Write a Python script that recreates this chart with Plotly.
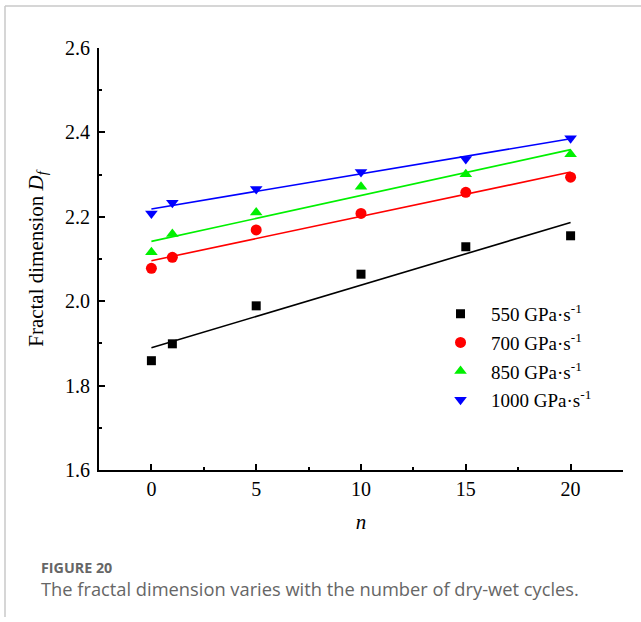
import numpy as np
import plotly.graph_objects as go

n_cycles = [0, 1, 5, 10, 15, 20]
series_names = ["550 GPa·s<sup>-1</sup>", "700 GPa·s<sup>-1</sup>",
                "850 GPa·s<sup>-1</sup>", "1000 GPa·s<sup>-1</sup>"]
df_550 = [1.859, 1.899, 1.989, 2.064, 2.129, 2.155]
df_700 = [2.078, 2.104, 2.169, 2.208, 2.258, 2.294]
df_850 = [2.116, 2.159, 2.210, 2.271, 2.301, 2.348]
df_1000 = [2.208, 2.233, 2.266, 2.306, 2.337, 2.386]

colors = ["#000000", "#ff0000", "#00f000", "#0000ff"]
symbols = ["square", "circle", "triangle-up", "triangle-down"]
sizes = [9, 11, 11, 11]

fig = go.Figure()
all_series = [df_550, df_700, df_850, df_1000]
x = np.array(n_cycles, dtype=float)
for i, ys in enumerate(all_series):
    y = np.array(ys)
    k, b = np.polyfit(x, y, 1)
    xf = np.array([x.min(), x.max()])
    fig.add_trace(go.Scatter(x=xf, y=k * xf + b, mode="lines",
                             line=dict(color=colors[i], width=1.6),
                             showlegend=False, hoverinfo="skip"))
for i, ys in enumerate(all_series):
    fig.add_trace(go.Scatter(x=n_cycles, y=ys, mode="markers", name=series_names[i],
                             legendgroup=f"g{i}",
                             marker=dict(color=colors[i], symbol=symbols[i], size=sizes[i],
                                         line=dict(width=0))))

serif = "Liberation Serif, Times New Roman, serif"
axis_common = dict(showline=True, linecolor="black", linewidth=2, showgrid=False,
                   zeroline=False, ticks="inside", ticklen=6, tickwidth=1.5,
                   tickcolor="black", mirror=False,
                   tickfont=dict(family=serif, size=20, color="black"))

fig.update_layout(
    width=641, height=622,
    margin=dict(l=99, r=18, t=48, b=152),
    paper_bgcolor="white", plot_bgcolor="white",
    xaxis=dict(range=[-2.5, 22.5], tickvals=[0, 5, 10, 15, 20],
               minor=dict(tickvals=[-2.5, 2.5, 7.5, 12.5, 17.5, 22.5], ticks="inside",
                          ticklen=3, tickwidth=1.5, tickcolor="black"),
               title=dict(text="<i>n</i>", font=dict(family=serif, size=21, color="black"),
                          standoff=15),
               **axis_common),
    yaxis=dict(range=[1.6, 2.6], tickvals=[1.6, 1.8, 2.0, 2.2, 2.4, 2.6],
               ticktext=["1.6", "1.8", "2.0", "2.2", "2.4", "2.6"],
               ticklabelstandoff=3,
               minor=dict(tickvals=[1.7, 1.9, 2.1, 2.3, 2.5], ticks="inside",
                          ticklen=3, tickwidth=1.5, tickcolor="black"),
               title=dict(text="Fractal dimension <i>D<sub>f</sub></i>",
                          font=dict(family=serif, size=21, color="black"), standoff=16),
               **axis_common),
    legend=dict(x=0.6317, y=0.415, xanchor="left", yanchor="top",
                bgcolor="rgba(0,0,0,0)", borderwidth=0,
                font=dict(family=serif, size=19, color="black"),
                traceorder="grouped", tracegroupgap=1, itemwidth=51),
    showlegend=True,
)

# page frame and caption
pw, ph = 524.0, 422.0
def px_x(p):
    return (p - 99) / pw
def px_y(p):
    return (470 - p) / ph

fig.add_shape(type="line", xref="paper", yref="paper",
              x0=px_x(5), x1=px_x(641), y0=px_y(6), y1=px_y(6),
              line=dict(color="#c8c8c8", width=1.5))
fig.add_shape(type="line", xref="paper", yref="paper",
              x0=px_x(5), x1=px_x(5), y0=px_y(6), y1=px_y(617),
              line=dict(color="#c8c8c8", width=1.5))

fig.add_annotation(xref="paper", yref="paper", x=px_x(39), y=px_y(567),
                   xanchor="left", yanchor="middle", showarrow=False,
                   text="<b>FIGURE 20</b>",
                   font=dict(family="Open Sans, sans-serif", size=14.3, color="#666666"))
fig.add_annotation(xref="paper", yref="paper", x=px_x(39), y=px_y(588),
                   xanchor="left", yanchor="middle", showarrow=False,
                   text="The fractal dimension varies with the number of dry-wet cycles.",
                   font=dict(family="Open Sans, sans-serif", size=18.3, color="#666666"))

fig.write_html("out.html")
